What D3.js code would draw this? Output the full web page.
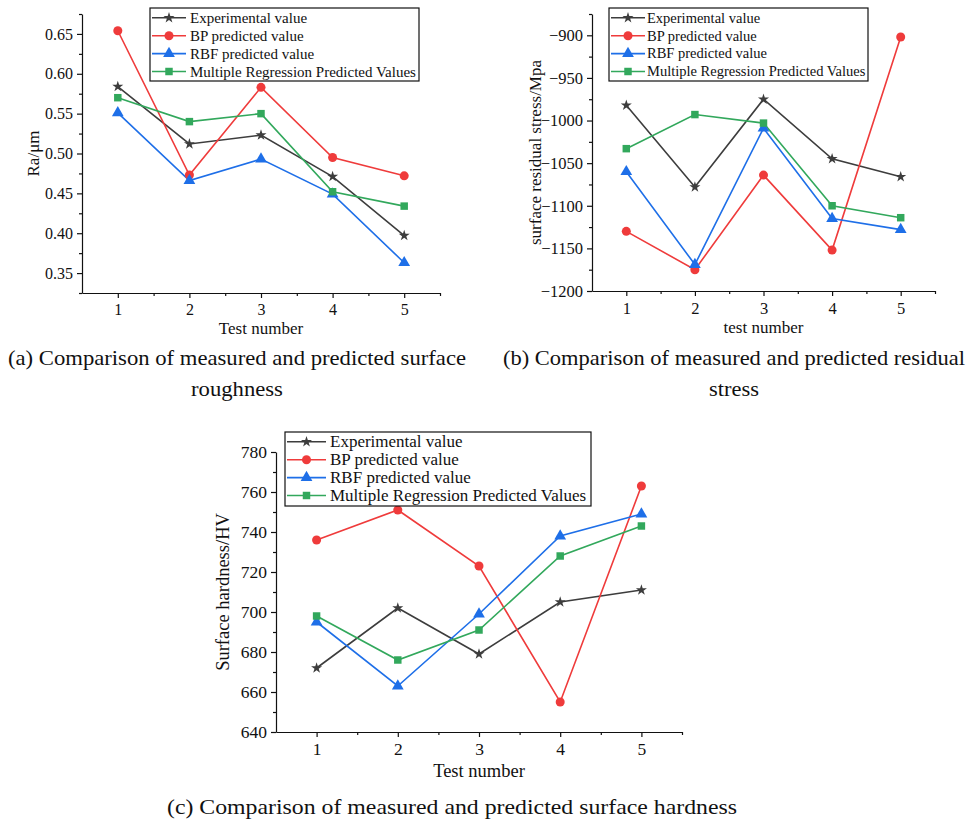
<!DOCTYPE html>
<html>
<head>
<meta charset="utf-8">
<script src="https://cdn.jsdelivr.net/npm/d3@7"></script>
<style>
  body { margin: 0; background: #fff; }
  svg { display: block; }
  text { font-family: "Liberation Serif", "Times New Roman", serif; fill: #111; }
  .axis path, .axis line { stroke: #111; stroke-width: 1.2; }
  .axis text { font-family: "Liberation Serif", "Times New Roman", serif; fill: #111; }
</style>
</head>
<body>
<svg width="972" height="825"></svg>
<script>
// data
const testNumbers = [1, 2, 3, 4, 5];
const seriesNames = [
  "Experimental value",
  "BP predicted value",
  "RBF predicted value",
  "Multiple Regression Predicted Values"
];

// (a) surface roughness Ra/um
const raExperimental = [0.584, 0.512, 0.523, 0.471, 0.397];
const raBP = [0.654, 0.473, 0.583, 0.495, 0.472];
const raRBF = [0.551, 0.466, 0.493, 0.449, 0.363];
const raMR = [0.570, 0.540, 0.550, 0.452, 0.434];
const raTicks = [0.35, 0.40, 0.45, 0.50, 0.55, 0.60, 0.65];

// (b) residual stress
const stressExperimental = [-982, -1078, -975, -1045, -1066];
const stressBP = [-1130, -1175, -1064, -1152, -902];
const stressRBF = [-1060, -1169, -1009, -1115, -1128];
const stressMR = [-1033, -993, -1003, -1100, -1114];
const stressTicks = [-1200, -1150, -1100, -1050, -1000, -950, -900];

// (c) surface hardness
const hardExperimental = [672, 702, 679, 705, 711];
const hardBP = [736, 751, 723, 655, 763];
const hardRBF = [695, 663, 699, 738, 749];
const hardMR = [698, 676, 691, 728, 743];
const hardTicks = [640, 660, 680, 700, 720, 740, 760, 780];

const colors = ["#3d3d3d", "#ef3b3b", "#1e6fe8", "#32a85c"];
const symbols = [d3.symbolStar, d3.symbolCircle, d3.symbolTriangle, d3.symbolSquare];
const symbolSizes = [38, 64, 60, 56];

const svg = d3.select("svg");

function drawPanel(p) {
  const g = svg.append("g");
  const x = d3.scaleLinear().domain([0.5, 5.5]).range([p.left, p.right]);
  const y = d3.scaleLinear().domain(p.yDomain).range([p.bottom, p.top]);

  // minor ticks halfway between the majors
  const step = p.ticks[1] - p.ticks[0];
  const yMinor = p.ticks.map((d) => d + step / 2).filter((d) => d <= p.yDomain[1] + 1e-9);
  if (p.yDomain[0] < p.ticks[0]) yMinor.push(p.ticks[0] - step / 2);
  const xMinor = testNumbers.map((d) => d + 0.5);

  g.append("g")
    .attr("class", "axis")
    .attr("transform", `translate(0,${p.bottom})`)
    .call(d3.axisBottom(x).tickValues(xMinor).tickSize(3).tickSizeOuter(0).tickFormat(""));
  g.append("g")
    .attr("class", "axis")
    .attr("transform", `translate(0,${p.bottom})`)
    .call(d3.axisBottom(x).tickValues(testNumbers).tickSize(5).tickSizeOuter(0).tickPadding(6).tickFormat(d3.format("d")))
    .call((a) => a.select(".domain").remove())
    .call((a) => a.selectAll("text").style("font-size", p.tickFont + "px"));
  g.append("g")
    .attr("class", "axis")
    .attr("transform", `translate(${p.left},0)`)
    .call(d3.axisLeft(y).tickValues(yMinor).tickSize(3).tickSizeOuter(0).tickFormat(""));
  g.append("g")
    .attr("class", "axis")
    .attr("transform", `translate(${p.left},0)`)
    .call(d3.axisLeft(y).tickValues(p.ticks).tickSize(5).tickSizeOuter(0).tickPadding(4).tickFormat(p.fmt))
    .call((a) => a.select(".domain").remove())
    .call((a) => a.selectAll("text").style("font-size", p.tickFont + "px"));

  // axis titles
  g.append("text")
    .attr("x", (p.left + p.right) / 2)
    .attr("y", p.xLabelY)
    .attr("text-anchor", "middle")
    .style("font-size", p.labelFont + "px")
    .text(p.xLabel);
  g.append("text")
    .attr("transform", `translate(${p.yLabelX},${(p.top + p.bottom) / 2}) rotate(-90)`)
    .attr("text-anchor", "middle")
    .style("font-size", p.labelFont + "px")
    .text(p.yLabel);

  const line = d3.line().x((d, i) => x(testNumbers[i])).y((d) => y(d));

  p.series.forEach((vals, s) => {
    g.append("path")
      .datum(vals)
      .attr("d", line)
      .attr("fill", "none")
      .attr("stroke", colors[s])
      .attr("stroke-width", 1.6);
  });
  p.series.forEach((vals, s) => {
    g.append("g")
      .selectAll("path")
      .data(vals)
      .join("path")
      .attr("transform", (d, i) => `translate(${x(testNumbers[i])},${y(d)})`)
      .attr("d", d3.symbol().type(symbols[s]).size(symbolSizes[s]))
      .attr("fill", colors[s]);
  });

  // legend
  const lg = g.append("g").attr("transform", `translate(${p.legend.x},${p.legend.y})`);
  lg.append("rect")
    .attr("width", p.legend.w)
    .attr("height", p.legend.h)
    .attr("fill", "#fff")
    .attr("stroke", "#111")
    .attr("stroke-width", 1.2);
  const rows = lg.selectAll(".row")
    .data(seriesNames)
    .join("g")
    .attr("class", "row")
    .attr("transform", (d, i) => `translate(0,${9.8 + i * 17.9})`);
  rows.append("line")
    .attr("x1", 2)
    .attr("x2", p.legend.lineLen + 2)
    .attr("stroke", (d, i) => colors[i])
    .attr("stroke-width", 1.6);
  rows.append("path")
    .attr("transform", `translate(${p.legend.lineLen / 2 + 2},0)`)
    .attr("d", (d, i) => d3.symbol().type(symbols[i]).size(symbolSizes[i])())
    .attr("fill", (d, i) => colors[i]);
  rows.append("text")
    .attr("x", p.legend.textX)
    .attr("y", p.legend.font / 3)
    .style("font-size", p.legend.font + "px")
    .text((d) => d);
}

drawPanel({
  left: 82, right: 440, top: 14, bottom: 293,
  yDomain: [0.325, 0.675], ticks: raTicks, fmt: d3.format(".2f"),
  series: [raExperimental, raBP, raRBF, raMR],
  tickFont: 16, labelFont: 17,
  xLabel: "Test number", xLabelY: 334,
  yLabel: "Ra/\u03bcm", yLabelX: 39,
  legend: { x: 150, y: 8, w: 269, h: 73, lineLen: 34, textX: 40, font: 15 }
});

drawPanel({
  left: 592, right: 935, top: 14, bottom: 291,
  yDomain: [-1200, -875], ticks: stressTicks, fmt: d3.format("d"),
  series: [stressExperimental, stressBP, stressRBF, stressMR],
  tickFont: 16.5, labelFont: 17,
  xLabel: "test number", xLabelY: 333,
  yLabel: "surface residual stress/Mpa", yLabelX: 541,
  legend: { x: 609, y: 8, w: 259, h: 73, lineLen: 34, textX: 38, font: 14.5 }
});

drawPanel({
  left: 276, right: 682, top: 452, bottom: 732,
  yDomain: [640, 780], ticks: hardTicks, fmt: d3.format("d"),
  series: [hardExperimental, hardBP, hardRBF, hardMR],
  tickFont: 17.5, labelFont: 18.5,
  xLabel: "Test number", xLabelY: 777,
  yLabel: "Surface hardness/HV", yLabelX: 229,
  legend: { x: 285, y: 432, w: 306, h: 74, lineLen: 39, textX: 45, font: 17 }
});

// captions, stretched horizontally like the source figure
const captions = [
  { lines: ["(a) Comparison of measured and predicted surface", "roughness"], cx: 237, y: 365, width: 458 },
  { lines: ["(b) Comparison of measured and predicted residual", "stress"], cx: 734, y: 365, width: 462 },
  { lines: ["(c) Comparison of measured and predicted surface hardness"], cx: 452, y: 814, width: 570 }
];
captions.forEach((c) => {
  let ratio = 1;
  c.lines.forEach((t, i) => {
    const el = svg.append("text")
      .attr("x", c.cx)
      .attr("y", c.y + i * 31)
      .attr("text-anchor", "middle")
      .style("font-size", "21px")
      .text(t);
    const natural = el.node().getComputedTextLength();
    if (i === 0) ratio = c.width / natural;
    el.attr("textLength", natural * ratio).attr("lengthAdjust", "spacingAndGlyphs");
  });
});
</script>
</body>
</html>
